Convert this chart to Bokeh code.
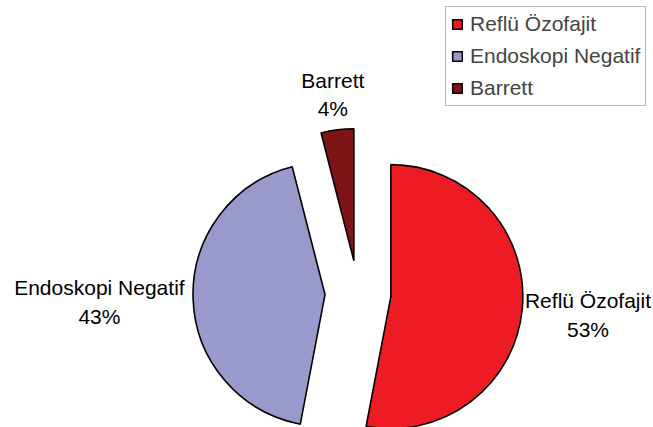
import math
from bokeh.plotting import figure
from bokeh.models import ColumnDataSource, Range1d
from bokeh.embed import file_html
from bokeh.resources import INLINE
from bokeh.core.properties import value

# ---- data ----
categories = ["Reflü Özofajit", "Endoskopi Negatif", "Barrett"]
percents = [53, 43, 4]
colors = ["#ED1C24", "#9999CC", "#7F1418"]

# ---- style / geometry ----
W, H = 653, 427
cx, cy = 357.5, 134.0      # pie centre (px, y up)
R = 132.0                  # radius
explode = 33.0             # explosion offset
label_dist = [1.50, 1.71, 1.27]
FONT = "Liberation Sans"

total = float(sum(percents))
xs, ys, starts, ends, lx, ly, ltxt = [], [], [], [], [], [], []
cum = 0.0
for cat, pct, ld in zip(categories, percents, label_dist):
    a0 = cum / total * 2 * math.pi          # clockwise from 12 o'clock
    a1 = (cum + pct) / total * 2 * math.pi
    mid = (a0 + a1) / 2
    dx, dy = math.sin(mid), math.cos(mid)
    sx, sy = cx + explode * dx, cy + explode * dy
    xs.append(sx); ys.append(sy)
    starts.append(math.pi / 2 - a0)
    ends.append(math.pi / 2 - a1)
    lx.append(sx + ld * R * dx)
    ly.append(sy + ld * R * dy)
    ltxt.append(f"{cat}\n{pct}%")
    cum += pct

src = ColumnDataSource(dict(x=xs, y=ys, start=starts, end=ends,
                            color=colors, label=categories))
lsrc = ColumnDataSource(dict(x=lx, y=ly, text=ltxt))

p = figure(width=W, height=H, output_backend="svg", toolbar_location=None,
           x_range=Range1d(0, W), y_range=Range1d(0, H), min_border=0,
           background_fill_color="white", border_fill_color="white")
p.axis.visible = False
p.grid.visible = False
p.outline_line_color = None

p.wedge(x="x", y="y", radius=R, start_angle="start", end_angle="end",
        direction="clock", fill_color="color", line_color="black",
        line_width=1.6, source=src, legend_field="label")

p.text(x="x", y="y", text="text", source=lsrc, text_align="center",
       text_baseline="middle", text_font=value(FONT), text_font_size="21px",
       text_color="black", text_line_height=1.25)

lg = p.legend[0]
lg.location = (445, 321)
lg.margin = 0
lg.padding = 5
lg.spacing = 8
lg.glyph_width = 12
lg.glyph_height = 12
lg.label_height = 24
lg.label_standoff = 7
lg.label_text_font = FONT
lg.label_text_font_size = "21px"
lg.border_line_color = "#707070"
lg.border_line_width = 1
lg.background_fill_color = "white"
lg.background_fill_alpha = 1.0

open("out.html", "w").write(file_html(p, INLINE))
